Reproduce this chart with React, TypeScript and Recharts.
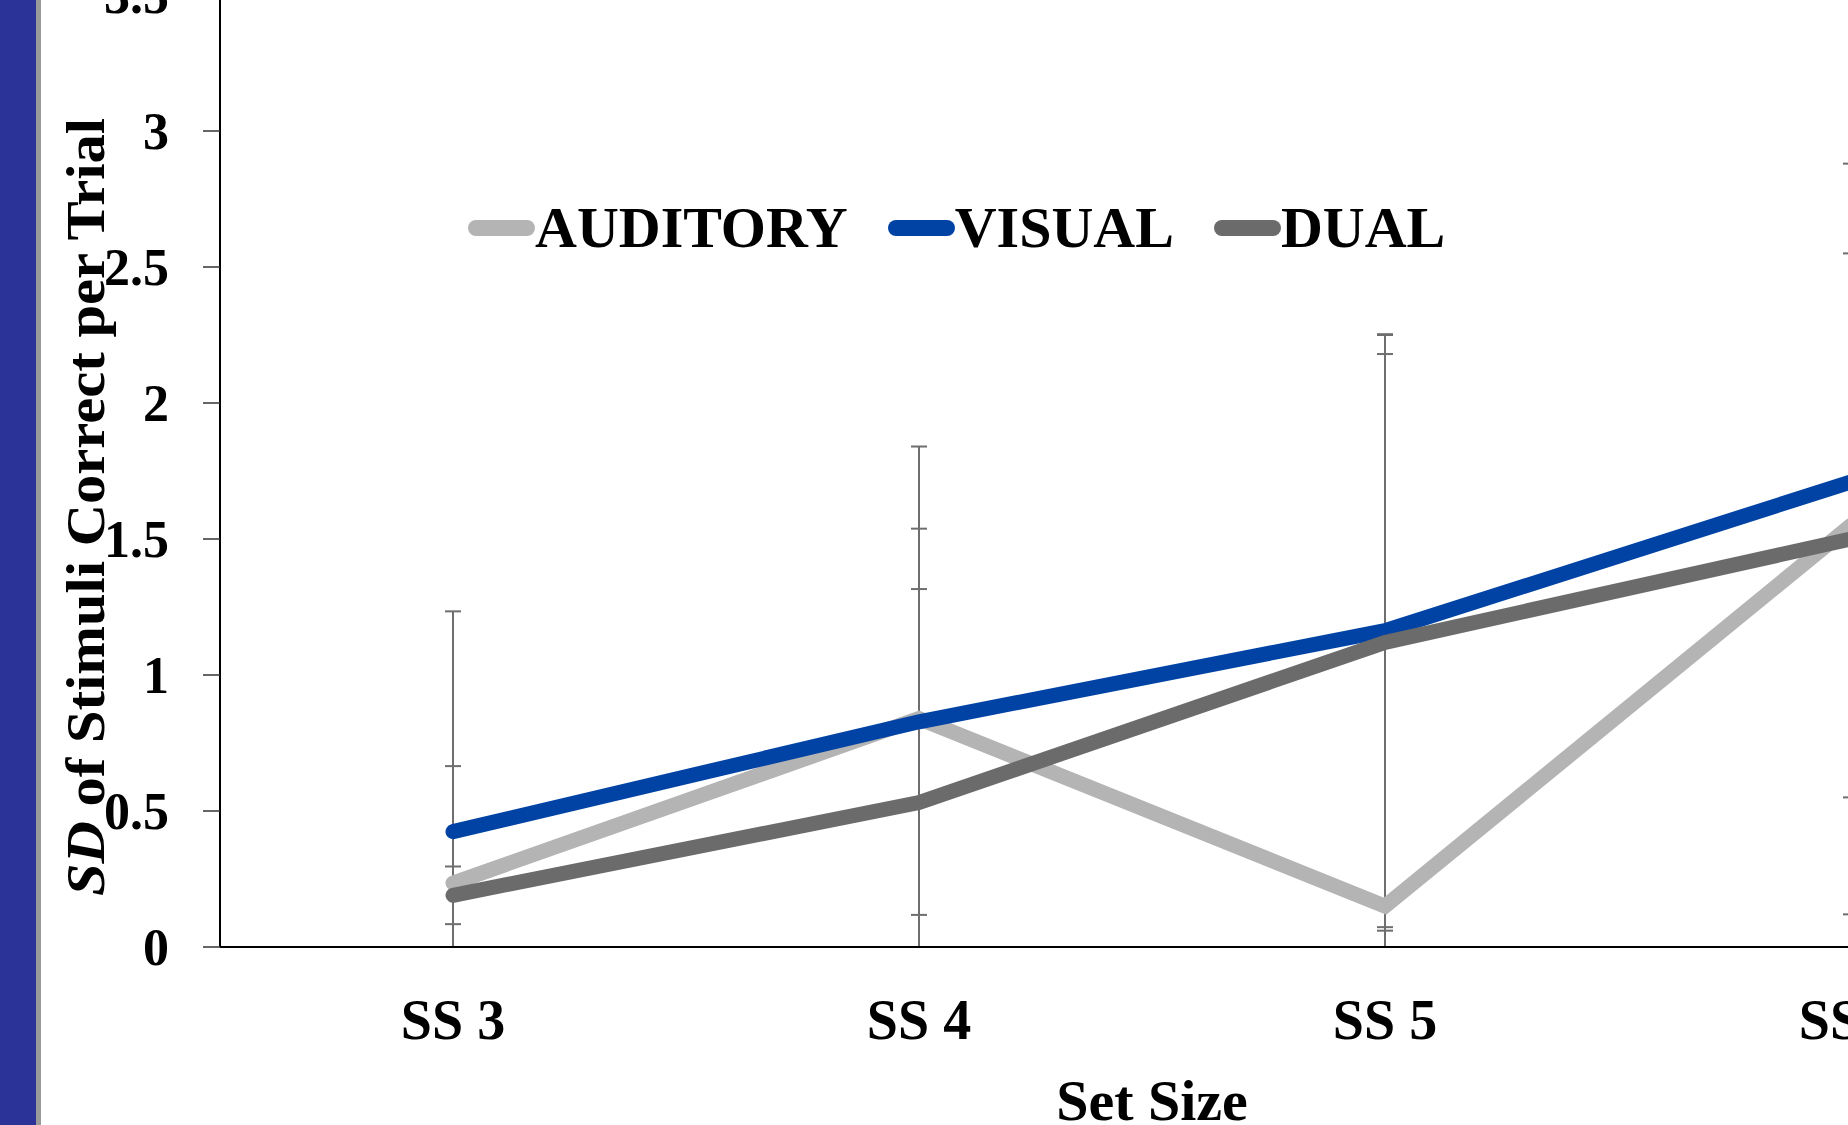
import React from 'react';
import * as RC from 'recharts';
import { LineChart, Line, XAxis, YAxis, ErrorBar, Legend } from 'recharts';

const categories = ['SS 3', 'SS 4', 'SS 5', 'SS 6'];
const auditory = [0.235, 0.84, 0.15, 1.55];
const visual = [0.424, 0.828, 1.163, 1.71];
const dual = [0.19, 0.531, 1.12, 1.5];
const auditoryErr = [0.43, 1.0, 2.1, 1.0];
const visualErr = [0.81, 0.71, 1.09, 1.85];
const dualErr = [0.106, 0.785, 1.06, 1.38];
const yTicks = [0, 0.5, 1, 1.5, 2, 2.5, 3, 3.5];

const legendOrder = ['AUDITORY', 'VISUAL', 'DUAL'];
const colors = { auditory: '#b4b4b4', visual: '#0043a4', dual: '#6b6b6b' };

const data = categories.map((c, i) => ({
  name: c,
  auditory: auditory[i],
  visual: visual[i],
  dual: dual[i],
  auditoryErr: auditoryErr[i],
  visualErr: visualErr[i],
  dualErr: dualErr[i],
}));

const FONT = "'Liberation Serif', 'Times New Roman', serif";
const ERR_STROKE = '#6e6e6e';
const LINE_W = 15;

const usePlotAreaHook: any = (RC as any).usePlotArea;
const useOffsetHook: any = (RC as any).useOffset;
const useWHook: any = (RC as any).useChartWidth;
const useHHook: any = (RC as any).useChartHeight;

const ClipDefs = () => {
  let area: any = null;
  if (usePlotAreaHook) {
    area = usePlotAreaHook();
  } else if (useOffsetHook && useWHook && useHHook) {
    const off = useOffsetHook();
    const w = useWHook();
    const h = useHHook();
    if (off && w && h) {
      area = { x: off.left, y: off.top, width: w - off.left - off.right, height: h - off.top - off.bottom };
    }
  }
  if (!area) return null;
  return (
    <defs>
      <clipPath id="errClip">
        <rect x={area.x} y={area.y} width={area.width} height={area.height} />
      </clipPath>
    </defs>
  );
};

const LegendContent = (props: any) => {
  const payload = (props.payload || []).filter((p: any) => p.type !== 'none');
  const sorted = [...payload].sort(
    (a: any, b: any) => legendOrder.indexOf(a.value) - legendOrder.indexOf(b.value)
  );
  return (
    <div
      style={{
        display: 'flex',
        alignItems: 'center',
        fontFamily: FONT,
        fontWeight: 'bold',
        fontSize: 58,
        lineHeight: '64px',
        whiteSpace: 'nowrap',
        color: '#000',
      }}
    >
      {sorted.map((p: any, i: number) => (
        <div key={i} style={{ display: 'flex', alignItems: 'center', marginRight: 40 }}>
          <span
            style={{
              display: 'inline-block',
              width: 67,
              height: 16,
              borderRadius: 8,
              background: p.color,
            }}
          />
          <span>{p.value}</span>
        </div>
      ))}
    </div>
  );
};

const YLabel = (props: any) => {
  const vb = props.viewBox || { x: 0, y: 0, width: 0, height: 0 };
  const x = vb.x + 104;
  const y = vb.y + vb.height / 2 + 36;
  return (
    <text
      x={x}
      y={y}
      transform={`rotate(-90, ${x}, ${y})`}
      textAnchor="middle"
      fontFamily={FONT}
      fontWeight="bold"
      fontSize={54}
      fill="#000"
      textLength={778}
      lengthAdjust="spacingAndGlyphs"
    >
      <tspan fontStyle="italic">SD</tspan> of Stimuli Correct per Trial
    </text>
  );
};

const XLabel = (props: any) => {
  const vb = props.viewBox || { x: 0, y: 0, width: 0, height: 0 };
  const x = vb.x + vb.width / 2;
  const y = vb.y + 173;
  return (
    <text x={x} y={y} textAnchor="middle" fontFamily={FONT} fontWeight="bold" fontSize={58} fill="#000">
      Set Size
    </text>
  );
};

export default function App() {
  return (
    <div
      style={{
        position: 'fixed',
        left: 0,
        top: 0,
        width: 1848,
        height: 1125,
        overflow: 'hidden',
        background: '#ffffff',
      }}
    >
      <style>{'.recharts-errorBars, .recharts-errorBar { clip-path: url(#errClip); }'}</style>
      <div style={{ position: 'absolute', left: 0, top: -60 }}>
        <LineChart
          width={2200}
          height={1200}
          data={data}
          margin={{ top: 55, right: 116, bottom: 0, left: 0 }}
        >
          <ClipDefs />
          <XAxis
            dataKey="name"
            scale="band"
            height={193}
            tickLine={false}
            tickSize={0}
            tickMargin={52}
            axisLine={{ stroke: '#000', strokeWidth: 2 }}
            tick={{ fontFamily: FONT, fontWeight: 'bold', fontSize: 56, fill: '#000' }}
            label={<XLabel />}
          />
          <YAxis
            width={220}
            domain={[0, 3.5]}
            ticks={yTicks}
            allowDataOverflow
            tickSize={17}
            tickMargin={34}
            tickLine={{ stroke: '#333', strokeWidth: 1.5 }}
            axisLine={{ stroke: '#000', strokeWidth: 2 }}
            tick={{ fontFamily: FONT, fontWeight: 'bold', fontSize: 52, fill: '#000' }}
            label={<YLabel />}
          />
          <Legend
            layout="horizontal"
            verticalAlign="middle"
            align="center"
            wrapperStyle={{ left: 468, top: 256, width: 'auto' }}
            content={<LegendContent />}
          />
          <Line dataKey="auditory" stroke="none" legendType="none" dot={false} activeDot={false} isAnimationActive={false}>
            <ErrorBar dataKey="auditoryErr" width={8} stroke={ERR_STROKE} strokeWidth={2} isAnimationActive={false} />
          </Line>
          <Line dataKey="visual" stroke="none" legendType="none" dot={false} activeDot={false} isAnimationActive={false}>
            <ErrorBar dataKey="visualErr" width={8} stroke={ERR_STROKE} strokeWidth={2} isAnimationActive={false} />
          </Line>
          <Line dataKey="dual" stroke="none" legendType="none" dot={false} activeDot={false} isAnimationActive={false}>
            <ErrorBar dataKey="dualErr" width={8} stroke={ERR_STROKE} strokeWidth={2} isAnimationActive={false} />
          </Line>
          <Line
            dataKey="auditory"
            name="AUDITORY"
            stroke={colors.auditory}
            strokeWidth={LINE_W}
            strokeLinecap="round"
            strokeLinejoin="miter"
            dot={false}
            activeDot={false}
            isAnimationActive={false}
          />
          <Line
            dataKey="visual"
            name="VISUAL"
            stroke={colors.visual}
            strokeWidth={LINE_W}
            strokeLinecap="round"
            strokeLinejoin="miter"
            dot={false}
            activeDot={false}
            isAnimationActive={false}
          />
          <Line
            dataKey="dual"
            name="DUAL"
            stroke={colors.dual}
            strokeWidth={LINE_W}
            strokeLinecap="round"
            strokeLinejoin="miter"
            dot={false}
            activeDot={false}
            isAnimationActive={false}
          />
        </LineChart>
      </div>
      <div style={{ position: 'absolute', left: 0, top: 0, width: 36, height: 1125, background: '#2b3399' }} />
      <div style={{ position: 'absolute', left: 36, top: 0, width: 5, height: 1125, background: '#9a9a9a' }} />
    </div>
  );
}
